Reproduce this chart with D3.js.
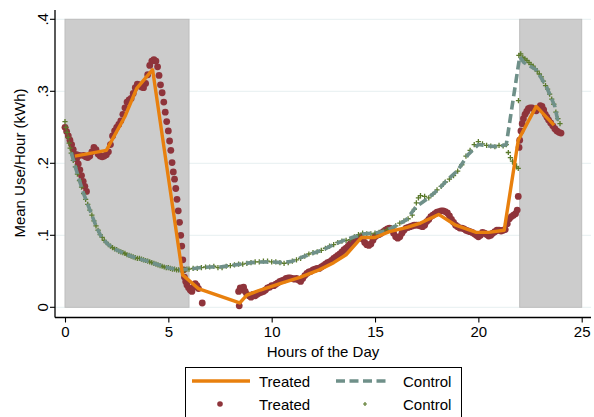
<!DOCTYPE html>
<html>
<head>
<meta charset="utf-8">
<script src="https://cdn.jsdelivr.net/npm/d3@7"></script>
<style>
  body { margin: 0; background: #fff; }
  text { font-family: "Liberation Sans", Arial, sans-serif; }
</style>
</head>
<body>
<div id="chart"></div>
<script>
// night hours that get the grey band
const shadeRanges = [[0, 6], [22, 25]];

const xTicks = [0, 5, 10, 15, 20, 25];
const yTicks = [0, 0.1, 0.2, 0.3, 0.4];
const yTickLabels = ["0", ".1", ".2", ".3", ".4"];

// fitted line, treated group  [hour, kWh]
const treatedLine = [
  [0.48,0.210],[2.0,0.218],[2.9,0.265],[3.47,0.304],[4.24,0.330],[5.69,0.045],
  [6.45,0.026],[8.45,0.006],[8.8,0.017],[9.45,0.024],[10.4,0.033],[11.4,0.042],
  [12.3,0.052],[13.0,0.062],[13.6,0.073],[14.35,0.097],[15.0,0.097],[15.7,0.105],
  [16.55,0.111],[17.2,0.117],[18.08,0.129],[18.9,0.114],[19.9,0.104],[20.5,0.104],
  [21.25,0.107],[21.93,0.232],[22.8,0.279],[23.66,0.253]
];

// fitted line, control group
const controlLine = [
  [0.30,0.215],[0.50,0.195],[0.70,0.176],[0.90,0.158],[1.10,0.143],[1.30,0.128],
  [1.50,0.113],[1.70,0.101],[1.90,0.093],[2.10,0.087],[2.40,0.081],[2.70,0.077],
  [3.00,0.073],[3.50,0.068],[4.00,0.064],[4.50,0.059],[5.00,0.055],[5.50,0.052],
  [6.00,0.053],[6.50,0.055],[7.00,0.056],[7.50,0.056],[8.00,0.058],[8.50,0.060],
  [9.00,0.062],[9.50,0.063],[10.00,0.063],[10.50,0.062],[11.00,0.064],[11.50,0.070],
  [12.00,0.075],[12.50,0.080],[13.00,0.087],[13.50,0.093],[14.00,0.098],[14.50,0.102],
  [15.00,0.103],[15.50,0.106],[16.00,0.113],[16.50,0.121],[17.00,0.140],[17.50,0.150],
  [18.00,0.162],[18.50,0.177],[19.00,0.190],[19.50,0.212],[20.00,0.226],[20.50,0.224],
  [21.00,0.223],[21.35,0.226],[22.00,0.348],[22.20,0.340],[22.80,0.330],[23.30,0.306],
  [23.70,0.279],[23.85,0.258]
];

// mean use by time of day, treated
const treatedPoints = [
  [0.00,.250],[0.08,.244],[0.16,.238],[0.24,.232],[0.32,.226],[0.40,.219],[0.48,.212],
  [0.56,.206],[0.64,.199],[0.72,.191],[0.80,.183],[0.88,.175],[0.96,.168],[1.04,.161],
  [0.56,.212],[0.70,.211],[0.90,.211],[1.00,.209],[1.10,.208],[1.20,.210],[1.30,.216],
  [1.40,.222],[1.50,.219],[1.60,.213],[1.70,.210],[1.80,.209],[1.90,.210],[2.00,.212],
  [2.10,.216],[2.20,.226],[2.30,.238],[2.40,.245],[2.50,.250],[2.60,.254],[2.70,.259],
  [2.80,.268],[2.90,.277],[3.00,.285],[3.10,.288],[3.20,.290],[3.30,.297],[3.40,.305],
  [3.50,.310],[3.60,.309],[3.70,.306],[3.80,.305],[3.90,.311],[4.00,.323],[4.10,.336],
  [4.20,.342],[4.30,.344],[4.40,.342],[4.48,.334],[4.55,.322],[4.62,.309],[4.70,.298],
  [4.78,.285],[4.85,.271],[4.92,.258],[5.00,.245],[5.06,.231],[5.12,.218],[5.18,.201],
  [5.24,.188],[5.30,.178],[5.36,.165],[5.42,.150],[5.48,.134],[5.54,.118],[5.60,.100],
  [5.65,.085],[5.70,.066],[5.74,.052],[5.78,.042],[5.84,.036],[5.90,.031],[5.98,.027],
  [6.06,.024],[6.14,.022],[6.22,.028],[6.30,.033],[6.38,.030],[6.46,.026],[6.64,.006],
  [8.40,.022],[8.43,.002],[8.48,.027],[8.56,.025],[8.64,.028],[8.72,.022],[8.80,.018],
  [8.90,.016],[9.00,.014],[9.10,.018],[9.20,.016],[9.30,.018],[9.40,.020],[9.50,.021],
  [9.60,.022],[9.70,.024],[9.80,.027],[9.90,.028],[10.00,.030],[10.10,.030],[10.20,.032],
  [10.30,.034],[10.40,.036],[10.50,.037],[10.60,.038],[10.70,.040],[10.80,.041],[10.90,.041],
  [11.00,.040],[11.10,.039],[11.20,.040],[11.30,.038],[11.40,.036],[11.50,.040],[11.60,.044],
  [11.70,.047],[11.80,.049],[11.90,.050],[12.00,.052],[12.10,.053],[12.20,.054],[12.30,.054],
  [12.40,.056],[12.50,.058],[12.60,.060],[12.70,.062],[12.80,.063],[12.90,.065],[13.00,.068],
  [13.10,.070],[13.20,.072],[13.30,.074],[13.40,.077],[13.50,.080],[13.60,.082],[13.70,.085],
  [13.80,.088],[13.90,.090],[14.00,.093],[14.10,.095],[14.20,.097],[14.30,.098],[14.40,.095],
  [14.50,.090],[14.60,.087],[14.70,.086],[14.80,.088],[14.90,.093],[15.00,.098],[15.10,.100],
  [15.20,.101],[15.30,.103],[15.40,.105],[15.50,.107],[15.60,.109],[15.70,.110],[15.80,.108],
  [15.90,.103],[16.00,.098],[16.10,.096],[16.20,.098],[16.30,.103],[16.40,.107],[16.50,.110],
  [16.60,.111],[16.70,.112],[16.80,.113],[16.90,.114],[17.00,.114],[17.10,.114],[17.20,.113],
  [17.30,.112],[17.40,.114],[17.50,.119],[17.60,.122],[17.70,.126],[17.80,.128],[17.90,.130],
  [18.00,.132],[18.10,.133],[18.20,.134],[18.30,.134],[18.40,.133],[18.50,.131],[18.60,.127],
  [18.70,.122],[18.80,.118],[18.90,.114],[19.00,.112],[19.10,.110],[19.20,.110],[19.30,.109],
  [19.40,.107],[19.50,.106],[19.60,.105],[19.70,.104],[19.80,.102],[19.90,.100],[20.00,.098],
  [20.10,.100],[20.20,.104],[20.30,.103],[20.40,.101],[20.50,.099],[20.60,.100],[20.70,.103],
  [20.80,.105],[20.90,.107],[21.00,.107],[21.10,.106],[21.20,.107],[21.30,.108],[21.40,.116],
  [21.50,.123],[21.60,.126],[21.70,.128],[21.80,.130],[21.88,.135],[21.93,.154],[21.97,.222],
  [22.00,.232],[22.06,.245],[22.12,.255],[22.18,.262],[22.26,.268],[22.34,.272],[22.42,.276],
  [22.50,.277],[22.60,.277],[22.70,.275],[22.80,.273],[22.90,.276],[23.00,.280],[23.08,.279],
  [23.16,.274],[23.24,.268],[23.32,.264],[23.40,.260],[23.50,.256],[23.60,.252],[23.70,.248],
  [23.80,.245],[23.90,.243],[24.00,.242]
];

// mean use by time of day, control
const controlPoints = [
  [0.00,.258],[0.05,.250],[0.10,.243],[0.15,.236],[0.20,.228],[0.25,.221],[0.30,.214],
  [0.40,.204],[0.50,.195],[0.60,.185],[0.70,.176],[0.80,.167],[0.90,.158],[1.00,.150],
  [1.10,.143],[1.20,.135],[1.30,.128],[1.40,.120],[1.50,.113],[1.60,.107],[1.70,.101],
  [1.80,.097],[1.90,.093],[2.00,.090],[2.10,.087],[2.20,.085],[2.30,.083],[2.40,.081],
  [2.50,.080],[2.60,.078],[2.70,.077],[2.80,.076],[2.90,.075],[3.00,.073],[3.10,.072],
  [3.20,.071],[3.30,.070],[3.40,.069],[3.50,.068],[3.60,.068],[3.70,.067],[3.80,.066],
  [3.90,.065],[4.00,.064],[4.10,.063],[4.20,.062],[4.30,.061],[4.40,.060],[4.50,.059],
  [4.60,.058],[4.70,.057],[4.80,.056],[4.90,.055],[5.00,.055],[5.10,.054],[5.20,.053],
  [5.30,.053],[5.40,.052],[5.50,.052],[5.60,.052],[5.70,.052],[5.80,.052],[5.90,.053],
  [6.00,.053],[6.20,.054],[6.40,.054],[6.60,.055],[6.80,.056],[7.00,.056],[7.20,.057],
  [7.40,.055],[7.60,.055],[7.80,.057],[8.00,.058],[8.20,.059],[8.40,.060],[8.60,.060],
  [8.80,.061],[9.00,.062],[9.20,.063],[9.40,.063],[9.60,.064],[9.80,.064],[10.00,.063],
  [10.20,.063],[10.40,.062],[10.60,.061],[10.80,.062],[11.00,.064],[11.20,.066],[11.40,.068],
  [11.60,.071],[11.80,.074],[12.00,.076],[12.20,.077],[12.40,.079],[12.60,.082],[12.80,.085],
  [13.00,.087],[13.20,.090],[13.40,.092],[13.60,.093],[13.80,.094],[14.00,.098],[14.20,.101],
  [14.40,.103],[14.60,.102],[14.80,.102],[15.00,.103],[15.20,.104],[15.40,.106],[15.60,.108],
  [15.80,.110],[16.00,.113],[16.20,.117],[16.40,.120],[16.60,.123],[16.80,.128],[16.90,.136],
  [17.00,.145],[17.10,.152],[17.20,.155],[17.40,.154],[17.60,.152],[17.80,.157],[18.00,.163],
  [18.20,.168],[18.40,.174],[18.60,.178],[18.80,.183],[19.00,.189],[19.20,.198],[19.40,.210],
  [19.60,.218],[19.80,.226],[20.00,.230],[20.20,.227],[20.40,.225],[20.60,.224],[20.80,.223],
  [21.00,.225],[21.20,.224],[21.35,.226],[21.45,.215],[21.55,.208],[21.65,.203],[21.75,.199],
  [21.85,.195],[21.93,.193],[21.94,.287],[21.96,.350],[22.05,.352],[22.15,.347],[22.25,.345],
  [22.35,.343],[22.45,.340],[22.55,.337],[22.65,.335],[22.75,.331],[22.85,.328],[22.95,.324],
  [23.05,.320],[23.15,.314],[23.25,.308],[23.35,.303],[23.45,.296],[23.55,.289],[23.65,.282],
  [23.75,.271],[23.85,.262],[23.95,.255]
];

const colors = {
  treatedLine: "#e8800e",
  treatedDot: "#8f343b",
  controlLine: "#6f9089",
  controlDot: "#5b7a2c",
  shade: "#cccccc",
  grid: "#e6eff1"
};

var width = 594, height = 417;

var svg = d3.select("#chart")
  .append("svg")
    .attr("width", width)
    .attr("height", height);

// plot frame edges (axes sit a bit outside the data range like Stata)
var axisLeft = 55, axisRight = 591, axisBottom = 317.5, axisTop = 10;

const x = d3.scaleLinear().domain([0, 25]).range([65, 581.7]);
const y = d3.scaleLinear().domain([0, 0.4]).range([307.3, 19.3]);

// grid lines
svg.append("g")
  .selectAll("line")
  .data(yTicks)
  .join("line")
    .attr("x1", axisLeft)
    .attr("x2", axisRight)
    .attr("y1", d => y(d))
    .attr("y2", d => y(d))
    .attr("stroke", colors.grid)
    .attr("stroke-width", 1);

// grey bands
svg.append("g")
  .selectAll("rect")
  .data(shadeRanges)
  .join("rect")
    .attr("x", d => x(d[0]))
    .attr("y", y(0.4))
    .attr("width", d => x(d[1]) - x(d[0]))
    .attr("height", y(0) - y(0.4))
    .attr("fill", colors.shade)
    .attr("stroke", "#bdbdbd")
    .attr("stroke-width", 1);

// treated dots
svg.append("g")
  .selectAll("circle")
  .data(treatedPoints)
  .join("circle")
    .attr("cx", d => x(d[0]))
    .attr("cy", d => y(d[1]))
    .attr("r", 3.4)
    .attr("fill", colors.treatedDot);

// control crosses
const cross = "M-2.6,0H2.6M0,-2.6V2.6";
svg.append("g")
  .selectAll("path")
  .data(controlPoints)
  .join("path")
    .attr("transform", d => `translate(${x(d[0])},${y(d[1])})`)
    .attr("d", cross)
    .attr("stroke", colors.controlDot)
    .attr("stroke-width", 1.3);

const line = d3.line()
  .x(d => x(d[0]))
  .y(d => y(d[1]));

svg.append("path")
  .datum(controlLine)
  .attr("d", line)
  .attr("fill", "none")
  .attr("stroke", colors.controlLine)
  .attr("stroke-width", 3.6)
  .attr("stroke-dasharray", "9,4.5");

svg.append("path")
  .datum(treatedLine)
  .attr("d", line)
  .attr("fill", "none")
  .attr("stroke", colors.treatedLine)
  .attr("stroke-width", 3.4)
  .attr("stroke-linejoin", "round");

// y axis
svg.append("line")
  .attr("x1", axisLeft).attr("x2", axisLeft)
  .attr("y1", axisTop).attr("y2", axisBottom)
  .attr("stroke", "#000").attr("stroke-width", 1.3);

const yt = svg.append("g")
  .selectAll("g")
  .data(yTicks)
  .join("g")
    .attr("transform", d => `translate(0,${y(d)})`);
yt.append("line")
  .attr("x1", axisLeft - 5).attr("x2", axisLeft)
  .attr("stroke", "#000").attr("stroke-width", 1.1);
yt.append("text")
  .attr("transform", "translate(47.5,0) rotate(-90)")
  .attr("text-anchor", "middle")
  .style("font-size", "15px")
  .text((d, i) => yTickLabels[i]);

// x axis
svg.append("line")
  .attr("x1", axisLeft).attr("x2", axisRight)
  .attr("y1", axisBottom).attr("y2", axisBottom)
  .attr("stroke", "#000").attr("stroke-width", 1.3);

svg.append("g")
  .attr("transform", `translate(0,${axisBottom})`)
  .call(d3.axisBottom(x).tickValues(xTicks).tickSize(5).tickPadding(4).tickFormat(d3.format("d")))
  .call(g => g.select(".domain").remove())
  .call(g => g.selectAll("line").attr("stroke-width", 1.1))
  .call(g => g.selectAll("text")
    .style("font-size", "15px")
    .style("font-family", "'Liberation Sans', Arial, sans-serif")
    .attr("fill", "#000"));

// axis titles
svg.append("text")
  .attr("x", 323)
  .attr("y", 357)
  .attr("text-anchor", "middle")
  .style("font-size", "15px")
  .text("Hours of the Day");

svg.append("text")
  .attr("transform", "translate(25,163) rotate(-90)")
  .attr("text-anchor", "middle")
  .style("font-size", "15px")
  .text("Mean Use/Hour (kWh)");

// legend
const legend = svg.append("g");
legend.append("rect")
  .attr("x", 185.5).attr("y", 367.5)
  .attr("width", 276).attr("height", 60)
  .attr("fill", "#fff")
  .attr("stroke", "#000")
  .attr("stroke-width", 1);

legend.append("line")
  .attr("x1", 192).attr("x2", 250).attr("y1", 381).attr("y2", 381)
  .attr("stroke", colors.treatedLine).attr("stroke-width", 3.4);
legend.append("line")
  .attr("x1", 336).attr("x2", 390).attr("y1", 381).attr("y2", 381)
  .attr("stroke", colors.controlLine).attr("stroke-width", 3.6)
  .attr("stroke-dasharray", "9,4.5");
legend.append("circle")
  .attr("cx", 220).attr("cy", 404).attr("r", 2.8)
  .attr("fill", colors.treatedDot);
legend.append("path")
  .attr("transform", "translate(365,404)")
  .attr("d", "M-2,0H2M0,-2V2")
  .attr("stroke", colors.controlDot).attr("stroke-width", 1.2);

const legendText = [
  { x: 259, y: 386.5, label: "Treated" },
  { x: 403, y: 386.5, label: "Control" },
  { x: 259, y: 409.5, label: "Treated" },
  { x: 403, y: 409.5, label: "Control" }
];
legend.selectAll("text.lab")
  .data(legendText)
  .join("text")
    .attr("class", "lab")
    .attr("x", d => d.x)
    .attr("y", d => d.y)
    .style("font-size", "15px")
    .text(d => d.label);
</script>
</body>
</html>
